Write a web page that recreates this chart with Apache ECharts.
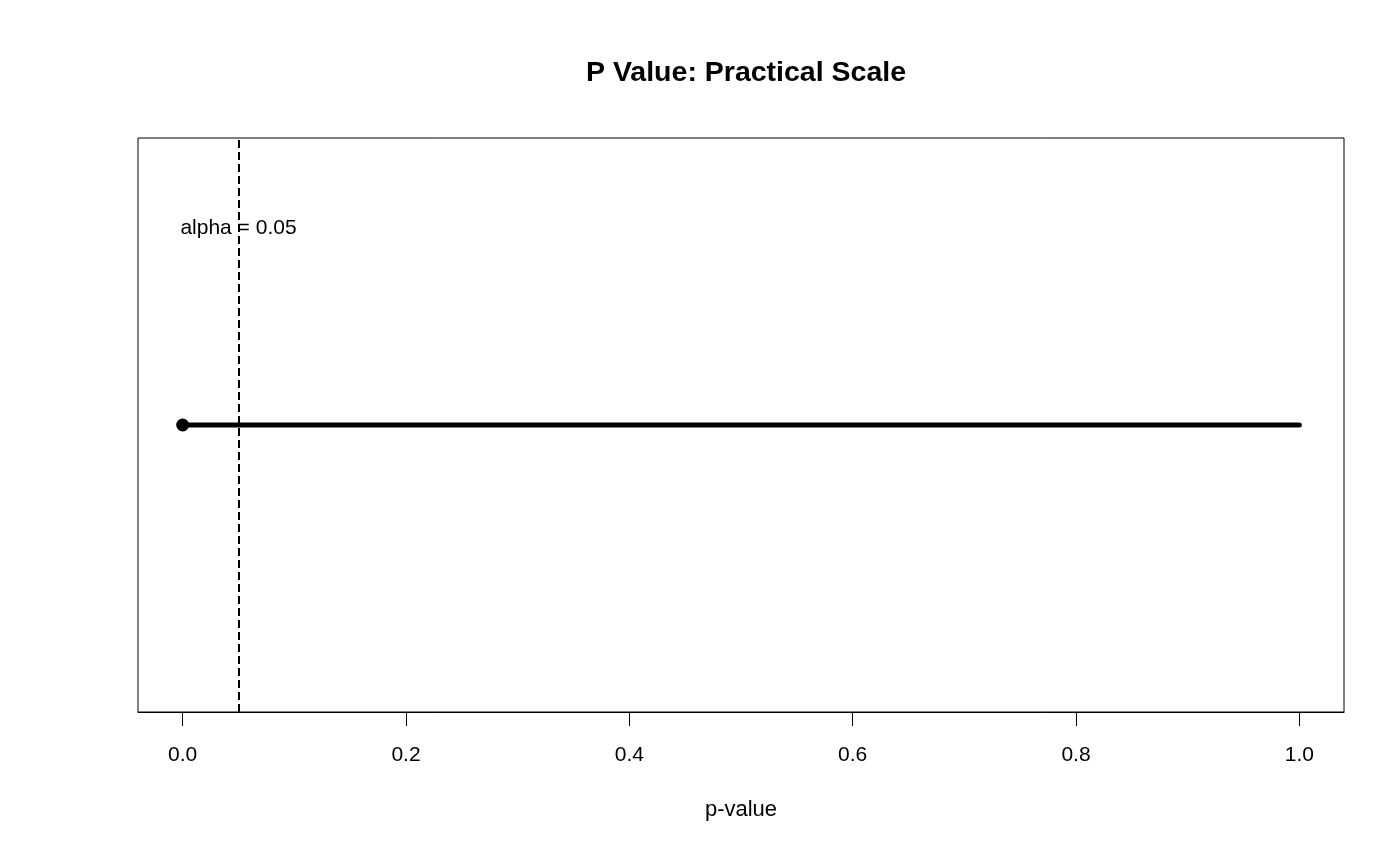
<!DOCTYPE html>
<html>
<head>
<meta charset="utf-8">
<title>P Value: Practical Scale</title>
<script src="https://cdn.jsdelivr.net/npm/echarts@6/dist/echarts.min.js"></script>
<style>
    html, body { margin: 0; padding: 0; background: #fff; }
    #chart { width: 1400px; height: 850px; }
</style>
</head>
<body>
<div id="chart"></div>
<script>
// p-value scale line: from 0 to 1 at height 1
const lineX = [0, 1];
const lineY = [1, 1];
// significance level
const alpha = 0.05;
const alphaLabelY = 1.74;
const tickValues = [0, 0.2, 0.4, 0.6, 0.8, 1.0];
const tickLabels = ['0.0', '0.2', '0.4', '0.6', '0.8', '1.0'];

const font = 'Liberation Sans, Arial, sans-serif';

function drawChart() {
    let chartDom = document.getElementById('chart');
    let myChart = echarts.init(chartDom);

    let lineData = lineX.map(function (x, i) {
        // 시작점에만 점 표시
        return {
            value: [x, lineY[i]],
            symbol: i === 0 ? 'circle' : 'none',
            symbolSize: 13
        };
    });

    let option = {
        animation: false,
        backgroundColor: '#fff',
        title: {
            text: 'P Value: Practical Scale',
            left: 741,
            top: 54,
            textAlign: 'center',
            textStyle: { fontFamily: font, fontSize: 28.5, fontWeight: 'bold', color: '#000' }
        },
        grid: {
            left: 138, right: 56, top: 138, bottom: 138,
            show: true, borderColor: '#000', borderWidth: 1
        },
        xAxis: {
            type: 'value',
            min: -0.04,
            max: 1.04,
            name: 'p-value',
            nameLocation: 'middle',
            nameGap: 87,
            nameTextStyle: { fontFamily: font, fontSize: 22, color: '#000' },
            axisLine: { show: true, onZero: false, lineStyle: { color: '#000', width: 1 } },
            axisTick: {
                show: true, length: 14, customValues: tickValues,
                lineStyle: { color: '#000', width: 1 }
            },
            axisLabel: {
                customValues: tickValues,
                margin: 33,
                fontFamily: font, fontSize: 21, color: '#000',
                formatter: function (v) {
                    let i = tickValues.indexOf(v);
                    return i >= 0 ? tickLabels[i] : '';
                }
            },
            splitLine: { show: false }
        },
        yAxis: {
            type: 'value',
            min: -0.08,
            max: 2.08,
            show: false,
            splitLine: { show: false }
        },
        series: [
            {
                type: 'line',
                data: lineData,
                lineStyle: { color: '#000', width: 5, cap: 'round' },
                itemStyle: { color: '#000' },
                silent: true,
                markLine: {
                    silent: true,
                    symbol: 'none',
                    label: { show: false },
                    lineStyle: { color: '#000', width: 2, type: [8, 4] },
                    data: [{ xAxis: alpha }]
                }
            },
            {
                type: 'scatter',
                data: [[alpha, alphaLabelY]],
                symbolSize: 0,
                silent: true,
                itemStyle: { opacity: 1, color: '#000' },
                label: {
                    show: true,
                    position: 'inside',
                    formatter: 'alpha = ' + alpha,
                    fontFamily: font, fontSize: 21, color: '#000',
                    textBorderWidth: 0
                }
            }
        ]
    };

    myChart.setOption(option);
}

drawChart();
</script>
</body>
</html>
